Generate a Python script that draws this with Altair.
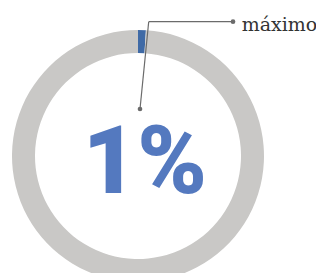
import altair as alt
import pandas as pd

categories = ["máximo", "resto"]
values = [1, 99]
center_label = ["1%"]
annotation_label = ["máximo"]

ring = pd.DataFrame({"cat": categories, "val": values, "ord": [0, 1]})

CX, CY = 130, 148

arc = alt.Chart(ring).mark_arc(outerRadius=126, innerRadius=103, stroke=None).encode(
    theta=alt.Theta("val:Q", stack=True),
    order=alt.Order("ord:Q"),
    color=alt.Color("cat:N", scale=alt.Scale(domain=categories, range=["#3f6aa6", "#c9c8c6"]), legend=None),
    x=alt.value(CX),
    y=alt.value(CY),
)

big = alt.Chart(pd.DataFrame({"t": center_label})).mark_text(
    font="Roboto", fontWeight=900, fontSize=94,
    color="#5479bf", align="center", baseline="alphabetic"
).encode(text="t:N", x=alt.value(137), y=alt.value(185))

one = pd.DataFrame({"a": [0]})
lead1 = alt.Chart(one).mark_rule(color="#6b6b6b", strokeWidth=1.2).encode(
    x=alt.value(132), y=alt.value(101), x2=alt.value(140.7), y2=alt.value(13.7))
lead2 = alt.Chart(one).mark_rule(color="#6b6b6b", strokeWidth=1.2).encode(
    x=alt.value(140.7), y=alt.value(13.7), x2=alt.value(225), y2=alt.value(13.7))
dot1 = alt.Chart(one).mark_circle(color="#6b6b6b", opacity=1, size=22).encode(
    x=alt.value(132), y=alt.value(101))
dot2 = alt.Chart(one).mark_circle(color="#6b6b6b", opacity=1, size=22).encode(
    x=alt.value(225), y=alt.value(13.7))
label = alt.Chart(pd.DataFrame({"t": annotation_label})).mark_text(
    font="DejaVu Serif", fontSize=19, color="#333333", align="left", baseline="alphabetic"
).encode(text="t:N", x=alt.value(233.7), y=alt.value(22.6))

chart = alt.layer(arc, big, lead1, lead2, dot1, dot2, label).properties(
    width=308, height=265, autosize=alt.AutoSizeParams(type="none"), padding=0
).configure_view(stroke=None)

chart.save("out.html", embed_options={"renderer": "svg", "actions": False})
